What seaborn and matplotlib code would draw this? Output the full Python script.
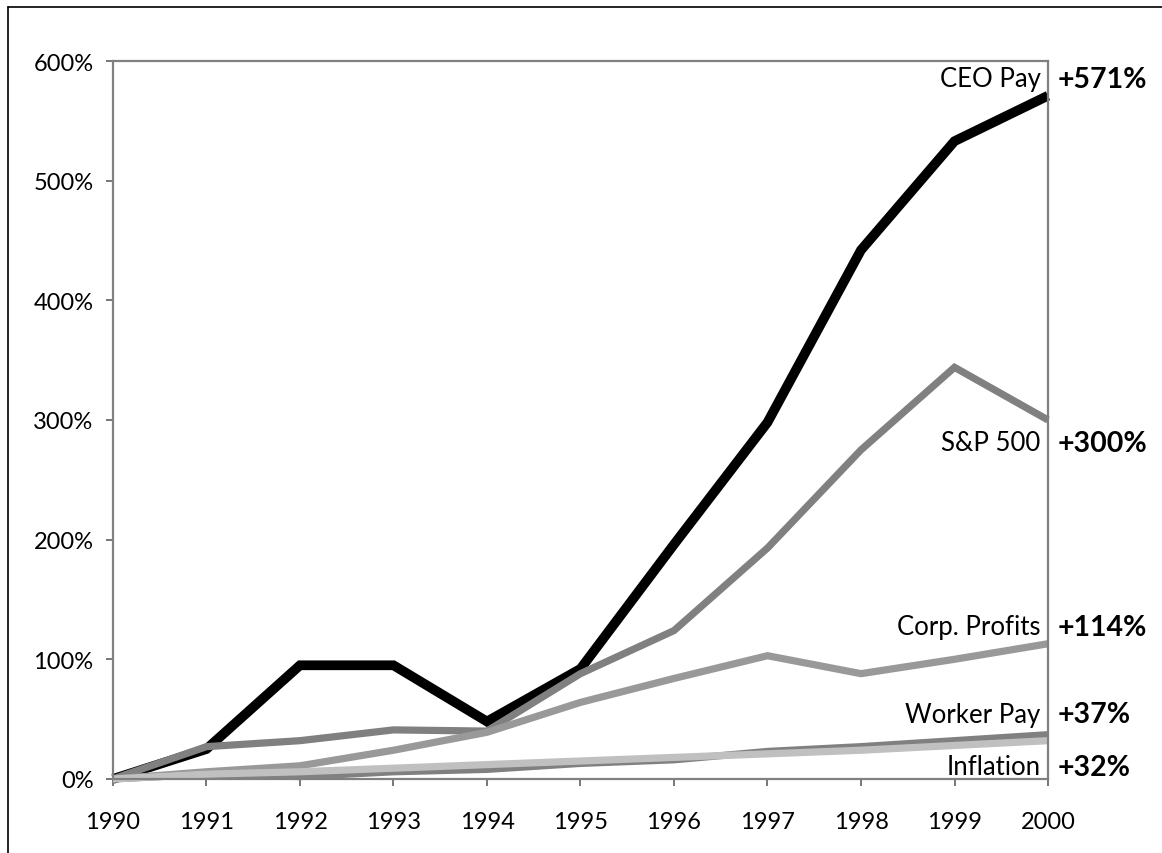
import pandas as pd
import matplotlib.pyplot as plt
import matplotlib.lines as mlines
import seaborn as sns
from matplotlib.ticker import FuncFormatter

# dati (variazione % rispetto al 1990)
years = list(range(1990, 2001))
ceo_pay = [0, 25, 95, 95, 48, 92, 196, 298, 442, 533, 571]
sp500 = [0, 27, 32, 41, 40, 88, 124, 193, 275, 344, 300]
corp_profits = [0, 6, 11, 24, 39, 64, 84, 103, 88, 100, 113]
worker_pay = [0, 4, 2, 6, 8, 13, 16, 23, 27, 32, 37]
inflation = [0, 4, 6, 9, 12, 15, 18, 21, 24, 28, 32]

series_names = ["CEO Pay", "S&P 500", "Corp. Profits", "Worker Pay", "Inflation"]
end_labels = ["+571%", "+300%", "+114%", "+37%", "+32%"]

df = pd.DataFrame({"Year": years, "CEO Pay": ceo_pay, "S&P 500": sp500,
                   "Corp. Profits": corp_profits, "Worker Pay": worker_pay,
                   "Inflation": inflation})
long_df = df.melt(id_vars="Year", var_name="Series", value_name="Change")

sns.set_style("white")
plt.rcParams["font.family"] = ["Lato", "DejaVu Sans"]

colors = {"CEO Pay": "#000000", "S&P 500": "#808080", "Corp. Profits": "#999999",
          "Worker Pay": "#808080", "Inflation": "#c0c0c0"}
widths = {"CEO Pay": 7.0, "S&P 500": 5.2, "Corp. Profits": 5.2,
          "Worker Pay": 5.2, "Inflation": 5.2}
# posizione verticale delle etichette a destra (in % sull'asse)
label_y = {"CEO Pay": 585, "S&P 500": 281, "Corp. Profits": 127,
           "Worker Pay": 54, "Inflation": 10}

fig = plt.figure(figsize=(11.62, 8.54), dpi=100)
ax = fig.add_axes([0.0972, 0.0867, 0.8047, 0.8407])

for name in series_names:
    sub = long_df[long_df["Series"] == name]
    sns.lineplot(data=sub, x="Year", y="Change", color=colors[name],
                 linewidth=widths[name], ax=ax, clip_on=False,
                 solid_capstyle="butt", solid_joinstyle="miter")

ax.set_xlim(1990, 2000)
ax.set_ylim(0, 600)
ax.set_xticks(years)
ax.set_yticks(range(0, 601, 100))
ax.yaxis.set_major_formatter(FuncFormatter(lambda v, p: f"{int(v)}%"))
ax.set_xlabel("")
ax.set_ylabel("")

for side in ["left", "right", "top", "bottom"]:
    ax.spines[side].set_visible(True)
    ax.spines[side].set_color("#808080")
    ax.spines[side].set_linewidth(1.6)

ax.tick_params(axis="both", which="both", direction="out", length=5,
               width=1.2, color="#606060", labelsize=17, labelcolor="black")
ax.tick_params(axis="y", left=True, pad=9)
ax.tick_params(axis="x", bottom=True, pad=18)

for name, lab in zip(series_names, end_labels):
    ax.text(1999.92, label_y[name], name, ha="right", va="center",
            fontsize=18.5, color="black")
    ax.text(2000.1, label_y[name], lab, ha="left", va="center",
            fontsize=20.5, fontweight="bold", color="black", clip_on=False)

# cornice esterna (tagliata come nell'originale)
fig.add_artist(mlines.Line2D([8 / 1162, 1.0], [1 - 8 / 854, 1 - 8 / 854],
                             color="black", linewidth=1.2, transform=fig.transFigure))
fig.add_artist(mlines.Line2D([8 / 1162, 8 / 1162], [0.0, 1 - 8 / 854],
                             color="black", linewidth=1.2, transform=fig.transFigure))

fig.savefig("out.png", dpi=100)
